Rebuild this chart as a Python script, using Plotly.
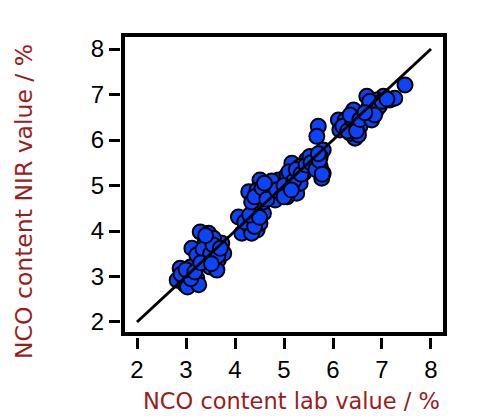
import plotly.graph_objects as go

lab_values = [
    2.82, 2.99, 3.05, 2.88, 3.15, 3.22, 3.09, 2.95, 3.03, 3.26, 2.90, 3.10, 3.00, 3.18,
    3.29, 3.46, 3.12, 3.39, 3.43, 3.60, 3.73, 3.66, 3.49, 3.63, 3.32, 3.22, 3.56, 3.77, 3.46,
    3.35, 3.50, 3.55, 3.40, 3.65, 3.70, 3.30, 3.52,
    4.07, 4.14, 4.28, 4.38, 4.45, 4.58, 4.34, 4.51, 4.20, 4.40, 4.30, 4.50,
    4.28, 4.51, 4.45, 4.58, 4.65, 4.34, 4.72, 4.82, 4.89, 4.96, 5.06, 5.16, 5.12, 5.26, 5.33,
    5.06, 5.40, 5.46, 5.33, 4.89,
    4.40, 4.55, 4.65, 4.75, 4.85, 5.00, 5.10, 5.20, 5.25, 5.35, 5.45, 5.00, 4.60, 5.15,
    5.60, 5.74, 5.80, 5.77, 5.64, 5.70, 5.67, 5.80, 5.53, 5.74, 5.55, 5.65, 5.72, 5.78, 5.70,
    6.11, 6.14, 6.28, 6.42, 6.45, 6.35, 6.55, 6.52, 6.25, 6.20, 6.30, 6.40, 6.48, 6.35, 6.55,
    6.69, 6.79, 6.89, 6.79, 7.03, 7.16, 7.26, 7.47, 6.89, 6.72, 6.75, 6.95, 6.85, 7.00, 7.10, 6.65,
]
nir_values = [
    2.92, 2.81, 3.07, 3.18, 2.85, 2.96, 3.21, 2.99, 2.77, 2.82, 3.05, 2.95, 3.15, 3.10,
    3.98, 3.95, 3.62, 3.76, 3.51, 3.58, 3.73, 3.36, 3.21, 3.14, 3.36, 3.47, 3.84, 3.51, 3.36,
    3.60, 3.50, 3.70, 3.90, 3.45, 3.62, 3.30, 3.28,
    4.31, 3.95, 4.13, 4.24, 4.02, 4.39, 3.95, 4.17, 4.20, 4.10, 4.35, 4.30,
    4.86, 5.12, 4.90, 4.64, 4.83, 4.64, 4.98, 4.68, 5.12, 4.83, 5.23, 5.49, 5.05, 4.83, 5.05,
    4.75, 5.27, 5.56, 5.42, 4.98,
    4.75, 4.95, 4.70, 5.10, 4.90, 5.00, 5.30, 5.10, 5.35, 5.25, 5.45, 4.75, 5.05, 4.90,
    5.56, 5.42, 5.27, 5.16, 5.42, 6.30, 6.08, 5.78, 5.64, 5.64, 5.50, 5.35, 5.55, 5.25, 5.70,
    6.44, 6.22, 6.37, 6.66, 6.04, 6.15, 6.30, 6.11, 6.44, 6.30, 6.20, 6.45, 6.20, 6.55, 6.45,
    6.96, 6.77, 6.66, 6.44, 6.96, 6.88, 6.92, 7.21, 6.88, 6.70, 6.85, 6.75, 6.55, 6.85, 6.90, 6.60,
]
ideal_line = [2, 8]
tick_values = [2, 3, 4, 5, 6, 7, 8]
x_title = "NCO content lab value / %"
y_title = "NCO content NIR value / %"

W, H = 480, 416
fl, fr, ft, fb = 123, 445, 35, 334
xdom = [fl / W, fr / W]
ydom = [1 - fb / H, 1 - ft / H]
title_color = "#9B1C1C"
tick_family = "Liberation Sans, Arial, sans-serif"
title_family = "DejaVu Sans, sans-serif"

fig = go.Figure()
fig.add_trace(go.Scatter(
    x=lab_values, y=nir_values, mode="markers",
    marker=dict(size=15, color="#0A44FF", line=dict(color="black", width=2)),
    showlegend=False, hoverinfo="x+y",
))
fig.add_trace(go.Scatter(
    x=ideal_line, y=ideal_line, mode="lines",
    line=dict(color="black", width=3), showlegend=False,
))

axis_common = dict(
    tickvals=tick_values, ticks="outside", ticklen=11, tickwidth=3, tickcolor="black",
    showline=False, showgrid=False, zeroline=False,
    tickfont=dict(size=24, color="black", family=tick_family),
)

fig.update_layout(
    width=W, height=H,
    margin=dict(l=0, r=0, t=0, b=0),
    paper_bgcolor="white", plot_bgcolor="white",
    font=dict(family=tick_family, color="black", size=24),
    xaxis=dict(domain=xdom, range=[1.714, 8.286], anchor="free", position=1 - 337 / H, **axis_common),
    yaxis=dict(domain=ydom, range=[1.736, 8.308], anchor="free", position=120 / W, **axis_common),
    shapes=[dict(
        type="rect", xref="paper", yref="paper",
        x0=xdom[0], x1=xdom[1], y0=ydom[0], y1=ydom[1],
        line=dict(color="black", width=4), fillcolor="rgba(0,0,0,0)", layer="above",
    )],
    annotations=[
        dict(text=x_title, xref="paper", yref="paper", x=291 / W, y=1 - 401 / H,
             xanchor="center", yanchor="middle", showarrow=False,
             font=dict(size=22.5, color=title_color, family=title_family)),
        dict(text=y_title, xref="paper", yref="paper", x=24 / W, y=1 - 202 / H,
             xanchor="center", yanchor="middle", showarrow=False, textangle=-90,
             font=dict(size=23.5, color=title_color, family=title_family)),
    ],
)

fig.write_html("out.html")
